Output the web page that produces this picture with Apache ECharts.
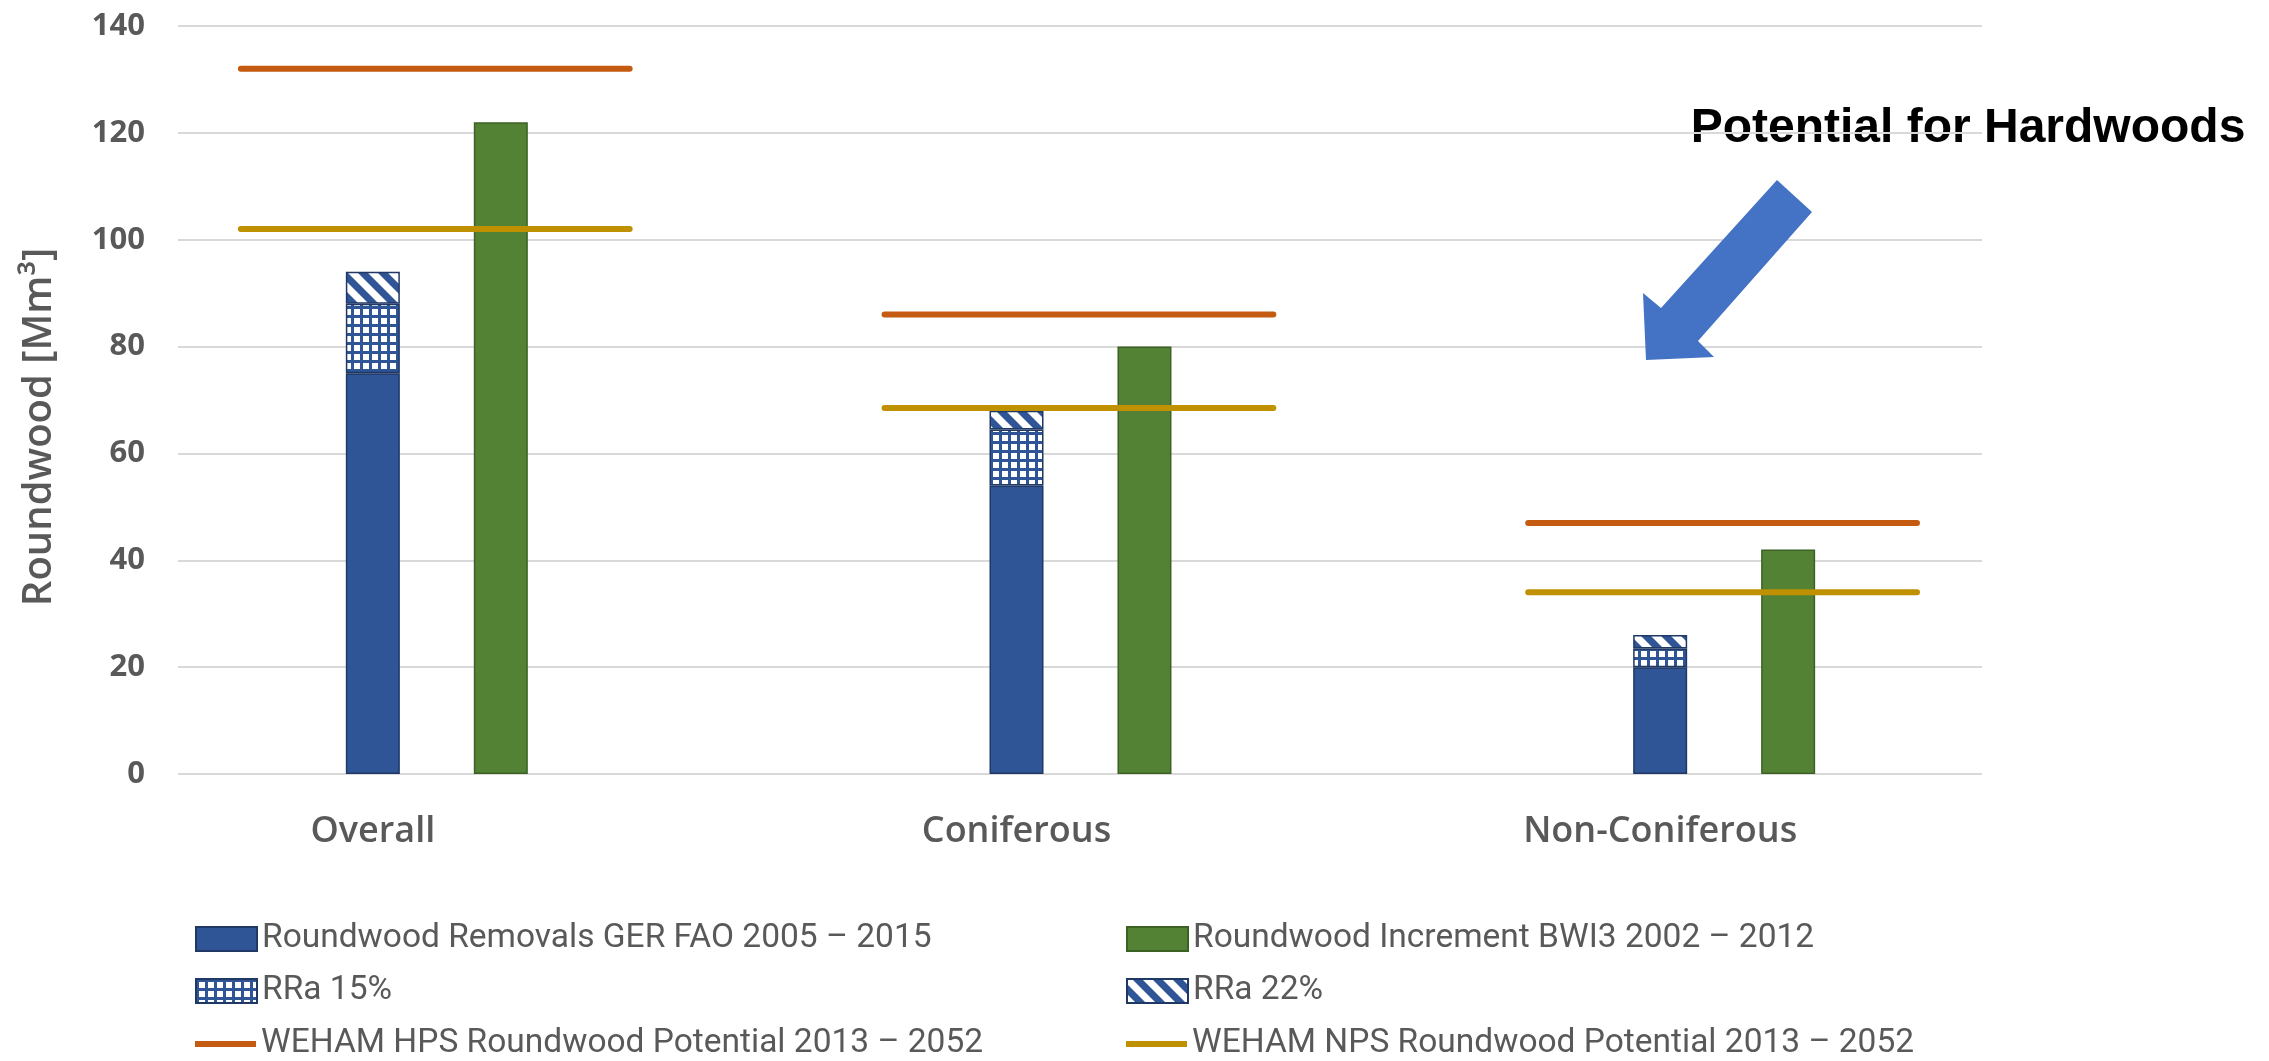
<!DOCTYPE html>
<html>
<head>
<meta charset="utf-8">
<script src="https://cdn.jsdelivr.net/npm/echarts@6/dist/echarts.min.js"></script>
<style>
  html, body { margin: 0; padding: 0; background: #ffffff; }
  #chart { width: 2269px; height: 1061px; }
</style>
</head>
<body>
<div id="chart"></div>
<script>
// ---- data ----
const categories = ['Overall', 'Coniferous', 'Non-Coniferous'];
const removals   = [75, 54, 20];      // Roundwood Removals GER FAO 2005 – 2015
const rra15      = [13, 10.5, 3.5];   // RRa 15% (stacked on removals)
const rra22      = [6, 3.5, 2.5];     // RRa 22% (stacked on top)
const increment  = [122, 80, 42];     // Roundwood Increment BWI3 2002 – 2012
const hpsPotential = [132, 86, 47];   // WEHAM HPS potential
const npsPotential = [102, 68.5, 34]; // WEHAM NPS potential
const yMin = 0, yMax = 140, yStep = 20;

const NAME_REM = 'Roundwood Removals GER FAO 2005 – 2015';
const NAME_INC = 'Roundwood Increment BWI3 2002 – 2012';
const NAME_R15 = 'RRa 15%';
const NAME_R22 = 'RRa 22%';
const NAME_HPS = 'WEHAM HPS Roundwood Potential 2013 – 2052';
const NAME_NPS = 'WEHAM NPS Roundwood Potential 2013 – 2052';

// ---- styling ----
const BLUE = '#2F5597', BLUE_EDGE = '#1F3864';
const GREEN = '#548235', GREEN_EDGE = '#3B6224';
const ORANGE = '#C55A11', GOLD = '#BF9000';
const TEXT = '#595959';

// small grid fill
function gridTile() {
  const n = 9, c = document.createElement('canvas');
  c.width = n; c.height = n;
  const g = c.getContext('2d');
  g.fillStyle = '#ffffff'; g.fillRect(0, 0, n, n);
  g.fillStyle = BLUE;
  g.fillRect(0, 0, n, 3);
  g.fillRect(0, 0, 3, n);
  return c;
}
// wide downward diagonal fill
function diagTile() {
  const p = 20, c = document.createElement('canvas');
  c.width = p; c.height = p;
  const g = c.getContext('2d');
  g.fillStyle = BLUE; g.fillRect(0, 0, p, p);
  g.strokeStyle = '#ffffff';
  g.lineWidth = p / (2 * Math.SQRT2);
  [-p, 0, p].forEach(k => {
    g.beginPath();
    g.moveTo(k - 3, -3);
    g.lineTo(k + p + 3, p + 3);
    g.stroke();
  });
  return c;
}

// horizontal potential segments, placed relative to each category band
const SEG_FROM = -0.205, SEG_TO = 0.399;
function segments(values) {
  const out = [];
  values.forEach((v, i) => {
    if (i) out.push(null);
    out.push([i + SEG_FROM, v], [i + SEG_TO, v]);
  });
  return out;
}

const BAR_W = 54, BAR_GAP = '137%';
const barBase = { type: 'bar', xAxisIndex: 1, yAxisIndex: 1, barWidth: BAR_W, barGap: BAR_GAP };

// legend: two columns, three rows, one entry per legend box
const LEGEND_FONT = { color: TEXT, fontSize: 33.5, fontFamily: 'Roboto' };
const LINE_ICON = 'path://M0,0M61,24M0,9H61V15H0Z';
const legendCols = [195, 1126];
const legendRows = [939, 991, 1044];
const legendItems = [
  [{ name: NAME_REM, icon: 'rect' }, { name: NAME_INC, icon: 'rect' }],
  [{ name: NAME_R15, icon: 'rect' }, { name: NAME_R22, icon: 'rect' }],
  [{ name: NAME_HPS, icon: LINE_ICON }, { name: NAME_NPS, icon: LINE_ICON }]
];
const legends = [];
legendItems.forEach((row, r) => row.forEach((item, c) => {
  legends.push({
    left: legendCols[c], top: legendRows[r] - 17, padding: 0,
    itemWidth: 61, itemHeight: 24, selectedMode: false,
    textStyle: LEGEND_FONT, data: [item]
  });
}));

const chart = echarts.init(document.getElementById('chart'), null, { renderer: 'canvas' });

chart.setOption({
  animation: false,
  backgroundColor: '#ffffff',
  grid: [
    { left: 178, right: 287, top: 26, bottom: 287 },  // gridlines + value labels
    { left: 51,  right: 287, top: 26, bottom: 287 }   // bars + category labels
  ],
  xAxis: [
    { gridIndex: 0, type: 'category', data: [''], show: false },
    {
      gridIndex: 1, type: 'category', data: categories,
      axisLine: { show: false }, axisTick: { show: false },
      axisLabel: { margin: 40, color: TEXT, fontSize: 36, fontWeight: 600, fontFamily: 'Open Sans' }
    },
    { gridIndex: 1, type: 'value', min: -0.5, max: categories.length - 0.5, show: false }
  ],
  yAxis: [
    {
      gridIndex: 0, type: 'value', min: yMin, max: yMax, interval: yStep,
      axisLine: { show: false }, axisTick: { show: false },
      axisLabel: { margin: 33, color: TEXT, fontSize: 31, fontWeight: 'bold', fontFamily: 'Open Sans' },
      splitLine: { lineStyle: { color: '#D9D9D9', width: 2 } }
    },
    { gridIndex: 1, type: 'value', min: yMin, max: yMax, interval: yStep, show: false, splitLine: { show: false } }
  ],
  legend: legends,
  series: [
    // empty slot so the removals stack sits on the category centre
    Object.assign({}, barBase, { name: 'slot', data: categories.map(() => null), silent: true }),
    Object.assign({}, barBase, {
      name: NAME_REM, stack: 'rem', data: removals,
      itemStyle: { color: BLUE, borderColor: BLUE_EDGE, borderWidth: 1.5 }
    }),
    Object.assign({}, barBase, {
      name: NAME_R15, stack: 'rem', data: rra15,
      itemStyle: { color: { image: gridTile(), repeat: 'repeat' }, borderColor: BLUE_EDGE, borderWidth: 1.5 }
    }),
    Object.assign({}, barBase, {
      name: NAME_R22, stack: 'rem', data: rra22,
      itemStyle: { color: { image: diagTile(), repeat: 'repeat' }, borderColor: BLUE_EDGE, borderWidth: 1.5 }
    }),
    Object.assign({}, barBase, {
      name: NAME_INC, data: increment,
      itemStyle: { color: GREEN, borderColor: GREEN_EDGE, borderWidth: 1.5 }
    }),
    {
      name: NAME_HPS, type: 'line', xAxisIndex: 2, yAxisIndex: 1, z: 5,
      data: segments(hpsPotential), symbol: 'none', connectNulls: false,
      color: ORANGE, lineStyle: { color: ORANGE, width: 6, cap: 'round' }
    },
    {
      name: NAME_NPS, type: 'line', xAxisIndex: 2, yAxisIndex: 1, z: 5,
      data: segments(npsPotential), symbol: 'none', connectNulls: false,
      color: GOLD, lineStyle: { color: GOLD, width: 6, cap: 'round' }
    }
  ],
  graphic: [
    {
      type: 'text', x: 40, y: 427, rotation: Math.PI / 2,
      style: {
        text: 'Roundwood [Mm³]', fill: TEXT, fontSize: 40, fontWeight: 600, fontFamily: 'Open Sans',
        align: 'center', verticalAlign: 'middle'
      }
    },
    {
      type: 'text', x: 1968, y: 129,
      style: {
        text: 'Potential for Hardwoods', fill: '#000000', fontSize: 48, fontWeight: 'bold',
        fontFamily: "'Liberation Sans', Arial", align: 'center', verticalAlign: 'middle'
      }
    },
    {
      type: 'polygon', z: 10,
      shape: { points: [[1777, 180], [1812, 212], [1698, 341], [1714, 357], [1646, 360], [1643, 293], [1661, 308]] },
      style: { fill: '#4472C4' }
    }
  ]
});
</script>
</body>
</html>
